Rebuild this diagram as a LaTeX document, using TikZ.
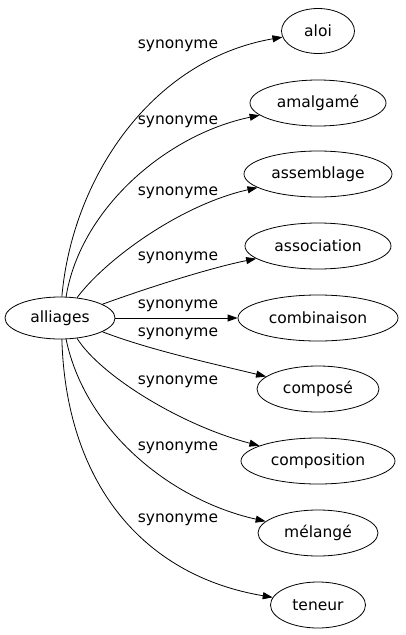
\documentclass[tikz,border=0pt]{standalone}
\usepackage{fontspec}
\setmainfont{DejaVu Sans}
\usetikzlibrary{shapes.geometric,arrows.meta}
\begin{document}
\begin{tikzpicture}[x=1pt,y=-1pt,
  term/.style={draw,line width=0.8pt,ellipse,inner sep=0pt,minimum height=46pt,font=\fontsize{15.5}{18}\selectfont},
  rel/.style={line width=0.8pt,-{Triangle[length=10pt,width=7pt]}},
  lbl/.style={font=\fontsize{15.5}{18}\selectfont,inner sep=0pt}]
\useasboundingbox (0,0) rectangle (405,635);
\node[term,minimum width=110pt,minimum height=42pt] (al) at (60,318) {alliages};
\node[term,minimum width=73pt,minimum height=45pt] (aloi) at (318,31) {aloi};
\node[term,minimum width=136pt] (amal) at (318,103) {amalgamé};
\node[term,minimum width=148pt] (assem) at (318,174) {assemblage};
\node[term,minimum width=146pt] (assoc) at (318,246) {association};
\node[term,minimum width=160pt] (comb) at (318,318) {combinaison};
\node[term,minimum width=122pt] (compo) at (318,389) {composé};
\node[term,minimum width=154pt] (compn) at (318,461) {composition};
\node[term,minimum width=120pt] (mel) at (318,533) {mélangé};
\node[term,minimum width=95pt] (ten) at (318,605) {teneur};

\draw[rel] (al.85) .. controls (72,180) and (150,60) .. (aloi);
\draw[rel] (al.74) .. controls (80,210) and (165,135) .. (amal);
\draw[rel] (al.50) .. controls (105,260) and (180,205) .. (assem);
\draw[rel] (al.18) .. controls (150,287) and (210,268) .. (assoc);
\draw[rel] (al) -- (comb);
\draw[rel] (al.-18) .. controls (150,350) and (210,363) .. (compo);
\draw[rel] (al.-50) .. controls (100,375) and (180,425) .. (compn);
\draw[rel] (al.-74) .. controls (85,430) and (170,500) .. (mel);
\draw[rel] (al.-85) .. controls (66,480) and (140,575) .. (ten);

\node[lbl] (l1) at (178,46) {synonyme};
\node[lbl] (l2) at (178,122) {synonyme};
\node[lbl] (l3) at (178,193) {synonyme};
\node[lbl] (l4) at (178,258) {synonyme};
\node[lbl] (l5) at (178,306) {synonyme};
\node[lbl] (l6) at (178,334) {synonyme};
\node[lbl] (l7) at (178,382) {synonyme};
\node[lbl] (l8) at (178,448) {synonyme};
\node[lbl] (l9) at (178,520) {synonyme};
\end{tikzpicture}
\end{document}
